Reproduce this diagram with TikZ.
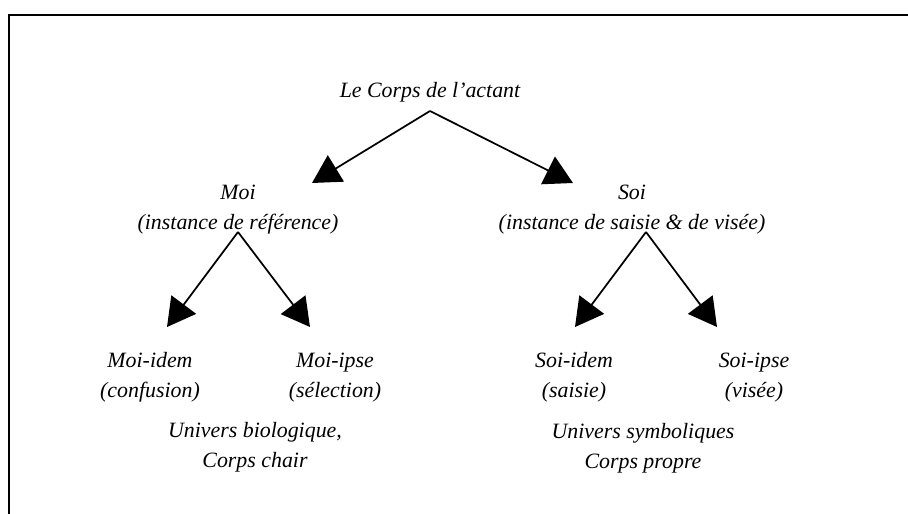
\documentclass[tikz,border=0pt]{standalone}
\usepackage{fontspec}
\setmainfont{Liberation Serif}
\usetikzlibrary{arrows.meta}
\begin{document}
\begin{tikzpicture}[x=0.75pt,y=-0.75pt,
  lbl/.style={align=center,inner sep=0pt,anchor=base,font=\fontsize{16.4}{22}\selectfont\itshape},
  arr/.style={line width=1.3pt,-{Triangle[length=21pt,width=23pt]}},
  frame/.style={line width=1.8pt}]
\useasboundingbox (0,0) rectangle (908,514);
\draw[frame] (9,514) -- (9,15) -- (908,15);
\node[lbl] (top) at (430,97) {Le Corps de l’actant};
\node[lbl] (moi) at (238,229) {Moi\\(instance de référence)};
\node[lbl] (soi) at (632,229) {Soi\\(instance de saisie \& de visée)};
\node[lbl] (moiidem) at (150,397) {Moi-idem\\(confusion)};
\node[lbl] (moiipse) at (335,397) {Moi-ipse\\(sélection)};
\node[lbl] (soiidem) at (574,397) {Soi-idem\\(saisie)};
\node[lbl] (soiipse) at (754,397) {Soi-ipse\\(visée)};
\node[lbl] (ubio) at (255,467) {Univers biologique,\\Corps chair};
\node[lbl] (usym) at (643,468) {Univers symboliques\\Corps propre};
\coordinate (s0) at (430,111);
\coordinate (s1) at (238,232);
\coordinate (s2) at (646,232);
\coordinate (t1) at (312,183);
\coordinate (t2) at (573,183);
\coordinate (t3) at (167,327);
\coordinate (t4) at (310,327);
\coordinate (t5) at (575,327);
\coordinate (t6) at (717,327);
\draw[arr] (s0) -- (t1);
\draw[arr] (s0) -- (t2);
\draw[arr] (s1) -- (t3);
\draw[arr] (s1) -- (t4);
\draw[arr] (s2) -- (t5);
\draw[arr] (s2) -- (t6);
\end{tikzpicture}
\end{document}
